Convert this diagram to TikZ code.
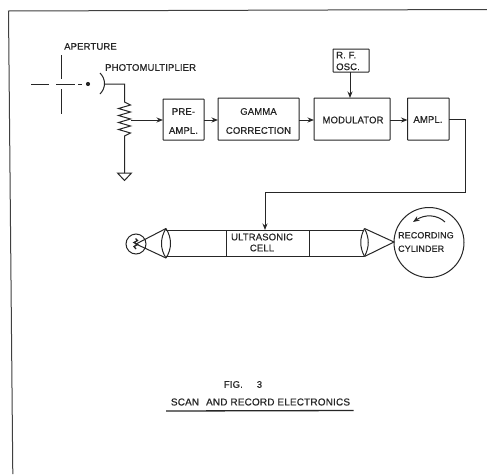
\documentclass[tikz,border=0pt]{standalone}
\usepackage{fontspec}
\setmainfont[FakeBold=0.5,LetterSpace=1.5]{Liberation Sans}
\usetikzlibrary{arrows.meta}
\newcommand{\lfont}[1]{\fontsize{9.5}{#1}\selectfont}
\newcommand{\rfont}[1]{\fontsize{8.9}{#1}\selectfont}
\tikzset{
  ink/.style={draw=black!85,line width=1pt},
  lab/.style={text=black!85,font=\lfont{11},inner sep=0pt,align=center},
  tip/.style={-{Stealth[length=6.5pt,width=5pt]}},
  bx/.style={ink,rounded corners=0.5pt},
}
\begin{document}
\begin{tikzpicture}[x=1pt,y=-1pt]
\useasboundingbox (0,0) rectangle (487,474);
\fill[white] (0,0) rectangle (487,474);
% frame
\draw[draw=black!75,line width=1pt] (487,9.5) -- (8.5,11) -- (12.8,474);
% aperture
\node[lab,anchor=west] (lap) at (64,46.5) {APERTURE};
\draw[ink] (61,55) -- (61,79) (61,89) -- (61,114);
\draw[ink] (31,84) -- (49,84) (56,84) -- (75,84) (78,84) -- (82,84);
\fill[black!85] (88,84) circle (2.1);
% photomultiplier
\node[lab,anchor=west] (lpm) at (105,67.5) {PHOTOMULTIPLIER};
\coordinate (pm) at (104.5,84);
\coordinate (rtop) at (124.5,100);
\coordinate (rbot) at (124.5,139);
\coordinate (gnd) at (124.5,173);
\coordinate (wiper) at (131,120);
\draw[ink] (100,73) .. controls (106,79) and (106,88) .. (100,94);
\draw[ink] (pm) -- (124.5,84) -- (rtop) -- (124.5,102)
  -- (130.5,105) -- (118.5,108.5) -- (130.5,112) -- (118.5,115.5) -- (130.5,119)
  -- (118.5,122.5) -- (130.5,126) -- (118.5,129.5) -- (130.5,133) -- (124.5,136) -- (rbot) -- (gnd);
\draw[ink] (gnd) ++(-7,0) -- ++(14,0) -- ++(-7,7.5) -- cycle;
% blocks
\draw[bx] (163,99) rectangle (204,140);
\draw[bx] (218,98) rectangle (299,140);
\draw[bx] (314,98) rectangle (390,140);
\draw[bx] (407.5,98) rectangle (449,140);
\draw[bx] (333,49) rectangle (369,72);
\node[lab,font=\lfont{19}] (pre) at (183.5,121) {PRE-\\AMPL.};
\node[lab,font=\lfont{19}] (gam) at (258.5,121) {GAMMA\\CORRECTION};
\node[lab] (mod) at (353,120) {MODULATOR};
\node[lab] (amp) at (428,119.5) {AMPL.};
\node[lab,align=left,anchor=west,font=\lfont{11.7}] (rf) at (336,61) {R. F.\\OSC.};
% connectors
\draw[ink,tip] (wiper) -- (163,120);
\draw[ink,tip] (204,120) -- (218,120);
\draw[ink,tip] (299,120) -- (314,120);
\draw[ink,tip] (390,120) -- (407.5,120);
\draw[ink,tip] (350,72) -- (350,98);
\draw[ink,tip] (449,119.5) -- (465,119.5) -- (465,192.5) -- (265,192.5) -- (265,230);
% tube
\draw[ink] (166,230) -- (364,230) (166,256.5) -- (364,256.5);
\draw[ink] (226,230) -- (226,256.5) (309.5,230) -- (309.5,256.5);
\node[lab,font=\lfont{11}] (cell) at (262,242.5) {ULTRASONIC\\CELL};
% lens left
\draw[ink] (166,228.5) .. controls (160,238) and (160,249) .. (166,258);
\draw[ink] (166,228.5) .. controls (172,238) and (172,249) .. (166,258);
% lens right
\draw[ink] (364.5,228.5) .. controls (359.5,238) and (359.5,247) .. (364.5,256.5);
\draw[ink] (364.5,228.5) .. controls (369.5,238) and (369.5,247) .. (364.5,256.5);
% source
\draw[ink] (136,244) circle (10);
\draw[ink] (166,228.5) -- (136,244) -- (166,258);
\draw[ink,line width=1.3pt] (135.5,238.5) -- (137.5,240.5) -- (134,242.5) -- (137.5,244.5) -- (134,246.5) -- (136,249);
% cylinder
\draw[ink] (429,242.5) circle (35);
\draw[ink] (364.5,228.5) -- (394,242) -- (364.5,256.5);
\node[lab,align=left,anchor=west,font=\rfont{13.5}] (rec) at (398,242) {RECORDING\\CYLINDER};
\draw[ink,tip] (445,222) .. controls (437,214.5) and (425,214) .. (413,222);
% caption
\node[lab] (fig) at (243,384.5) {FIG.\hspace{14pt}3};
\node[lab,font=\fontsize{10}{11}\selectfont] (scan) at (260.5,402) {SCAN\hspace{4pt} AND RECORD ELECTRONICS};
\draw[draw=black!85,line width=1.3pt] (166,411) -- (353.5,410.5);
\end{tikzpicture}
\end{document}
